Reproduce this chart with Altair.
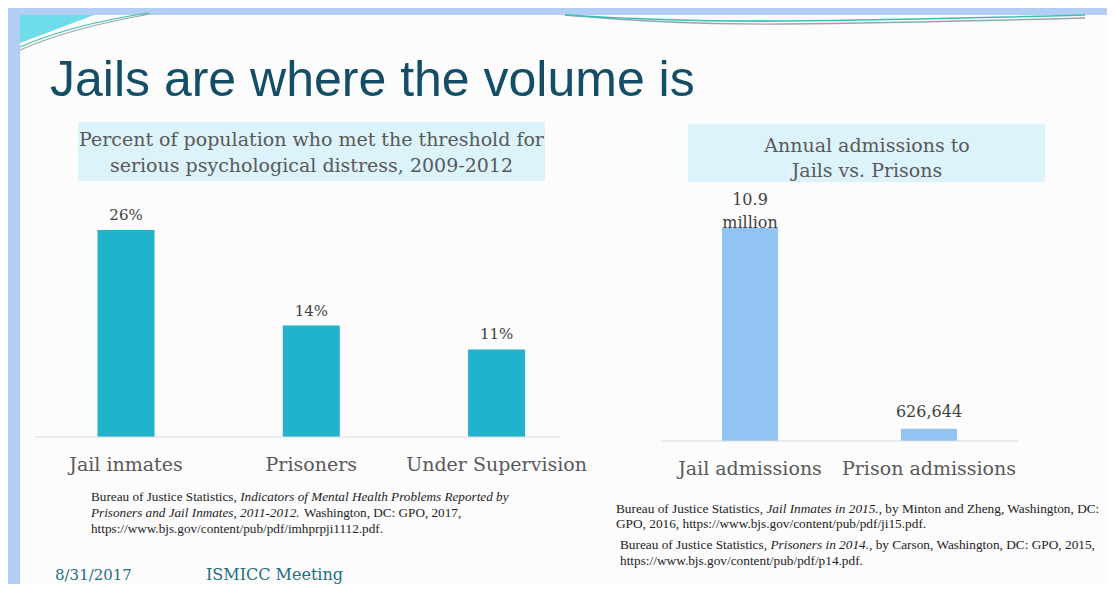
import altair as alt
import pandas as pd

# ---------------- data ----------------
left_categories = ["Jail inmates", "Prisoners", "Under Supervision"]
left_values = [26, 14, 11]
left_labels = ["26%", "14%", "11%"]

right_categories = ["Jail admissions", "Prison admissions"]
right_values = [10900000, 626644]
right_labels = ["10.9\nmillion", "626,644"]

left_df = pd.DataFrame({"cat": left_categories, "val": left_values, "lab": left_labels})
right_df = pd.DataFrame({"cat2": right_categories, "val2": right_values, "lab2": right_labels})

W, H = 1099, 576
SERIF = "DejaVu Serif"
NOTE = "Liberation Serif"
one = pd.DataFrame({"d": [0]})


def txt(t, x, y, size, color="#222222", font=NOTE, style="normal", align="left",
        baseline="alphabetic", weight="normal"):
    return alt.Chart(pd.DataFrame({"t": [t]})).mark_text(
        font=font, fontSize=size, color=color, fontStyle=style, align=align,
        baseline=baseline, fontWeight=weight
    ).encode(x=alt.value(x), y=alt.value(y), text="t:N")


def rect(x, x2, y, y2, color):
    return alt.Chart(one).mark_rect(color=color).encode(
        x=alt.value(x), x2=alt.value(x2), y=alt.value(y), y2=alt.value(y2))


def rule(x, x2, y, y2, color, width=1.0):
    return alt.Chart(one).mark_rule(color=color, strokeWidth=width).encode(
        x=alt.value(x), x2=alt.value(x2), y=alt.value(y), y2=alt.value(y2))


def shape(path, x, y, color, filled, width=1.0):
    if filled:
        m = alt.Chart(one).mark_point(shape=path, size=4, filled=True, color=color, opacity=1, strokeWidth=0)
    else:
        m = alt.Chart(one).mark_point(shape=path, size=4, filled=False, color=color, opacity=1, strokeWidth=width)
    return m.encode(x=alt.value(x), y=alt.value(y))


# ---------------- slide background & decorations ----------------
deco = [
    rect(12, W, 7, H, "#fcfcfc"),
    shape("M0,0L74,0L0,28Z", 12, 7, "#6fdcec", True),
    shape("M0,36Q50,14 130,0", 12, 6, "#9aa5a8", False, 1.2),
    shape("M0,33Q50,11 128,-1", 12, 6, "#3cbfae", False, 1.2),
    shape("M0,0Q110,10 220,9T520,3", 557, 7, "#9aa5a8", False, 1.4),
    shape("M0,0Q110,7 220,6T520,0", 557, 7, "#33c2b6", False, 1.6),
]

# ---------------- title ----------------
title = txt("Jails are where the volume is", 42, 88, 50, color="#134d66", font="Liberation Sans")

# ---------------- left chart ----------------
left_box = rect(70, 537, 114, 173, "#dcf3fb")
left_sub = [
    txt("Percent of population who met the threshold for", 303.5, 138, 19, "#595959", SERIF, align="center"),
    txt("serious psychological distress, 2009-2012", 303.5, 164, 19, "#595959", SERIF, align="center"),
]
lx = alt.X("cat:N", axis=None, sort=left_categories,
           scale=alt.Scale(domain=left_categories, range=[25.4, 581.2],
                           paddingInner=0.6923, paddingOuter=0.346))
ly = alt.Y("val:Q", axis=None, scale=alt.Scale(domain=[0, 26], range=[429, 222], nice=False, zero=True))
left_bars = alt.Chart(left_df).mark_bar(color="#21b2cc").encode(x=lx, y=ly)
left_vals = alt.Chart(left_df).mark_text(font=SERIF, fontSize=15, color="#404040",
                                         baseline="alphabetic", dy=-10).encode(x=lx, y=ly, text="lab:N")
left_cats = alt.Chart(left_df).mark_text(font=SERIF, fontSize=19, color="#595959",
                                         baseline="alphabetic").encode(x=lx, y=alt.value(463), text="cat:N")
left_axis = rule(27, 552, 429, 429, "#d9d9d9", 1)
left_chart = alt.layer(left_bars, left_axis, left_vals, left_cats)

# ---------------- right chart ----------------
right_box = rect(680, 1037, 116, 174, "#dcf3fb")
right_sub = [
    txt("Annual admissions to", 859, 144, 19, "#595959", SERIF, align="center"),
    txt("Jails vs. Prisons", 859, 169, 19, "#595959", SERIF, align="center"),
]
rx = alt.X("cat2:N", axis=None, sort=right_categories,
           scale=alt.Scale(domain=right_categories, range=[652.5, 1010.5],
                           paddingInner=0.687, paddingOuter=0.3435))
ry = alt.Y("val2:Q", axis=None, scale=alt.Scale(domain=[0, 10900000], range=[433, 220], nice=False, zero=True))
right_bars = alt.Chart(right_df).mark_bar(color="#91c4f2").encode(x=rx, y=ry)
right_val_a = alt.Chart(right_df).transform_filter(alt.datum.cat2 == right_categories[0]).mark_text(
    font=SERIF, fontSize=16, color="#404040", baseline="alphabetic", lineBreak="\n", lineHeight=23, dy=-23
).encode(x=rx, y=ry, text="lab2:N")
right_val_b = alt.Chart(right_df).transform_filter(alt.datum.cat2 == right_categories[1]).mark_text(
    font=SERIF, fontSize=16, color="#404040", baseline="alphabetic", dy=-12
).encode(x=rx, y=ry, text="lab2:N")
right_cats = alt.Chart(right_df).mark_text(font=SERIF, fontSize=19, color="#595959",
                                           baseline="alphabetic").encode(x=rx, y=alt.value(467), text="cat2:N")
right_axis = rule(653, 1010, 433, 433, "#d9d9d9", 1)
right_chart = alt.layer(right_bars, right_axis, right_val_a, right_val_b, right_cats)

# ---------------- footnotes ----------------
s1 = 13.2
notes_left = [
    txt("Bureau of Justice Statistics,", 83, 493, s1),
    txt("Indicators of Mental Health Problems Reported by", 232.2, 493, s1, style="italic"),
    txt("Prisoners and Jail Inmates, 2011-2012.", 83, 509, s1, style="italic"),
    txt("Washington, DC: GPO, 2017,", 296, 509, s1),
    txt("https://www.bjs.gov/content/pub/pdf/imhprpji1112.pdf.", 83, 525, s1),
]
s2 = 13.3
notes_right = [
    txt("Bureau of Justice Statistics,", 608, 505, s2),
    txt("Jail Inmates in 2015.,", 758.4, 505, s2, style="italic"),
    txt("by Minton and Zheng, Washington, DC:", 877.3, 505, s2),
    txt("GPO, 2016, https://www.bjs.gov/content/pub/pdf/ji15.pdf.", 608, 520, s2),
    txt("Bureau of Justice Statistics,", 612, 541, s2),
    txt("Prisoners in 2014.,", 762.4, 541, s2, style="italic"),
    txt("by Carson, Washington, DC: GPO, 2015,", 867.7, 541, s2),
    txt("https://www.bjs.gov/content/pub/pdf/p14.pdf.", 612, 557, s2),
]

# ---------------- footer ----------------
footer = [
    txt("8/31/2017", 47, 572, 15, "#1f6e83", SERIF),
    txt("ISMICC Meeting", 198, 572, 16, "#1f6e83", SERIF),
]

chart = alt.layer(
    *deco, title, left_box, *left_sub, right_box, *right_sub,
    left_chart, right_chart, *notes_left, *notes_right, *footer
).resolve_scale(x="independent", y="independent").properties(
    width=W, height=H, padding=0, background="#b3cef4",
    autosize=alt.AutoSizeParams(type="none")
).configure_view(strokeWidth=0)

chart.save("out.html", embed_options={"renderer": "svg", "actions": False})
